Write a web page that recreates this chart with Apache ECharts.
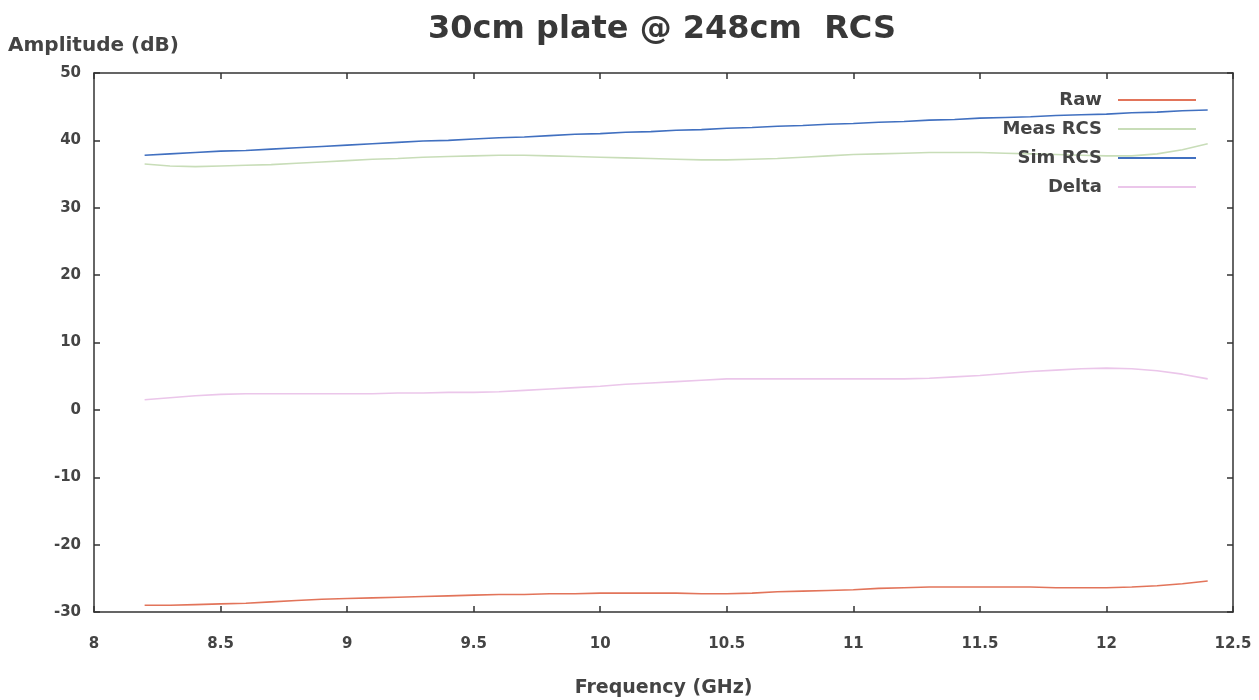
<!DOCTYPE html>
<html>
<head>
<meta charset="utf-8">
<script src="https://cdn.jsdelivr.net/npm/echarts@6/dist/echarts.min.js"></script>
<style>html,body{margin:0;padding:0;background:#fff;}#c{width:1259px;height:700px;}</style>
</head>
<body>
<div id="c"></div>
<script>
const freq = [8.2,8.3,8.4,8.5,8.6,8.7,8.8,8.9,9.0,9.1,9.2,9.3,9.4,9.5,9.6,9.7,9.8,9.9,10.0,10.1,10.2,10.3,10.4,10.5,10.6,10.7,10.8,10.9,11.0,11.1,11.2,11.3,11.4,11.5,11.6,11.7,11.8,11.9,12.0,12.1,12.2,12.3,12.4];
const raw = [-29.0,-29.0,-28.9,-28.8,-28.7,-28.5,-28.3,-28.1,-28.0,-27.9,-27.8,-27.7,-27.6,-27.5,-27.4,-27.4,-27.3,-27.3,-27.2,-27.2,-27.2,-27.2,-27.3,-27.3,-27.2,-27.0,-26.9,-26.8,-26.7,-26.5,-26.4,-26.3,-26.3,-26.3,-26.3,-26.3,-26.4,-26.4,-26.4,-26.3,-26.1,-25.8,-25.4];
const measRCS = [36.5,36.2,36.1,36.2,36.3,36.4,36.6,36.8,37.0,37.2,37.3,37.5,37.6,37.7,37.8,37.8,37.7,37.6,37.5,37.4,37.3,37.2,37.1,37.1,37.2,37.3,37.5,37.7,37.9,38.0,38.1,38.2,38.2,38.2,38.1,38.0,37.9,37.8,37.7,37.7,38.0,38.6,39.5];
const simRCS = [37.8,38.0,38.2,38.4,38.5,38.7,38.9,39.1,39.3,39.5,39.7,39.9,40.0,40.2,40.4,40.5,40.7,40.9,41.0,41.2,41.3,41.5,41.6,41.8,41.9,42.1,42.2,42.4,42.5,42.7,42.8,43.0,43.1,43.3,43.4,43.5,43.7,43.8,43.9,44.1,44.2,44.4,44.5];
const delta = [1.5,1.8,2.1,2.3,2.4,2.4,2.4,2.4,2.4,2.4,2.5,2.5,2.6,2.6,2.7,2.9,3.1,3.3,3.5,3.8,4.0,4.2,4.4,4.6,4.6,4.6,4.6,4.6,4.6,4.6,4.6,4.7,4.9,5.1,5.4,5.7,5.9,6.1,6.2,6.1,5.8,5.3,4.6];
const seriesNames = ['Raw','Meas RCS','Sim RCS','Delta'];
const seriesData = [raw, measRCS, simRCS, delta];
const colors = ['#e2745a','#c8ddb8','#4170c0','#ebc6ea'];
const xTicks = {min: 8, max: 12.5, interval: 0.5};
const yTicks = {min: -30, max: 50, interval: 10};

const font = '"DejaVu Sans", "Liberation Sans", sans-serif';
const axisCol = '#333';
const textCol = '#444';

const chart = echarts.init(document.getElementById('c'), null, {renderer: 'canvas'});
const baseAxis = {
  axisLine: {show: true, onZero: false, lineStyle: {color: axisCol, width: 1.5}},
  axisTick: {show: true, inside: true, length: 6, lineStyle: {color: axisCol, width: 1.5}},
  splitLine: {show: false}
};
chart.setOption({
  backgroundColor: '#ffffff',
  animation: false,
  legend: {
    orient: 'vertical', right: 58, top: 85, align: 'right',
    itemWidth: 78, itemHeight: 2, itemGap: 9,
    icon: 'rect',
    textStyle: {fontFamily: font, fontWeight: 'bold', fontSize: 18, color: textCol, lineHeight: 20, padding: [0, 11, 0, 0]},
    data: seriesNames
  },
  grid: {left: 94, right: 26, top: 73, bottom: 88, outerBoundsMode: 'none', containLabel: false},
  xAxis: [
    Object.assign({}, baseAxis, {
      type: 'value', min: xTicks.min, max: xTicks.max, interval: xTicks.interval,
      name: 'Frequency (GHz)', nameLocation: 'middle', nameGap: 67,
      nameTextStyle: {fontFamily: font, fontWeight: 'bold', fontSize: 19, color: textCol},
      axisLabel: {fontFamily: font, fontWeight: 'bold', fontSize: 15, color: textCol, margin: 25}
    }),
    Object.assign({}, baseAxis, {
      type: 'value', position: 'top', min: xTicks.min, max: xTicks.max, interval: xTicks.interval,
      axisLabel: {show: false}
    })
  ],
  yAxis: [
    Object.assign({}, baseAxis, {
      type: 'value', min: yTicks.min, max: yTicks.max, interval: yTicks.interval,
      axisLabel: {fontFamily: font, fontWeight: 'bold', fontSize: 15, color: textCol, margin: 13}
    }),
    Object.assign({}, baseAxis, {
      type: 'value', position: 'right', min: yTicks.min, max: yTicks.max, interval: yTicks.interval,
      axisLabel: {show: false}
    })
  ],
  graphic: [{
    type: 'text', x: 662, y: 14,
    style: {text: '30cm plate @ 248cm  RCS', fontFamily: font, fontWeight: 'bold', fontSize: 32, fill: '#383838', align: 'center', verticalAlign: 'top'}
  }, {
    type: 'text', x: 8, y: 36,
    style: {text: 'Amplitude (dB)', fontFamily: font, fontWeight: 'bold', fontSize: 20, fill: textCol, verticalAlign: 'top'}
  }],
  series: seriesNames.map((n, i) => ({
    name: n, type: 'line', showSymbol: false, symbol: 'none',
    xAxisIndex: 0, yAxisIndex: 0,
    data: freq.map((f, j) => [f, seriesData[i][j]]),
    lineStyle: {color: colors[i], width: 1.6},
    itemStyle: {color: colors[i]}
  }))
});
</script>
</body>
</html>
